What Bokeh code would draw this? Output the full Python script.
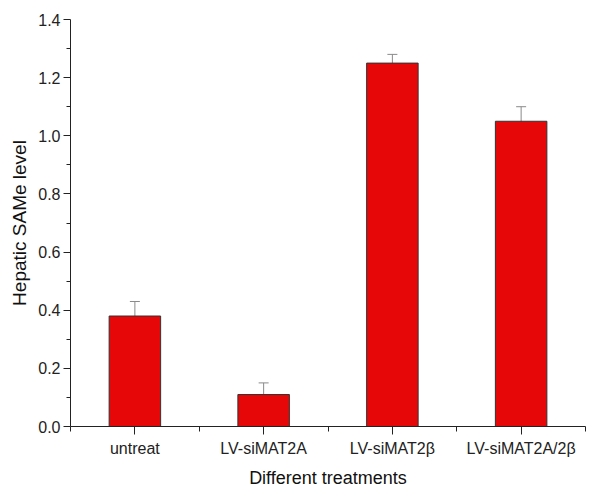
from bokeh.plotting import figure
from bokeh.models import ColumnDataSource, Whisker, TeeHead, FixedTicker, Range1d, CustomJSTickFormatter
from bokeh.embed import file_html
from bokeh.resources import INLINE

categories = ["untreat", "LV-siMAT2A", "LV-siMAT2\u03b2", "LV-siMAT2A/2\u03b2"]
values = [0.38, 0.11, 1.25, 1.05]
errors = [0.05, 0.04, 0.03, 0.05]
y_ticks = [0.0, 0.2, 0.4, 0.6, 0.8, 1.0, 1.2, 1.4]

xs = list(range(1, len(categories) + 1))
src = ColumnDataSource(dict(
    x=xs, top=values,
    upper=[v + e for v, e in zip(values, errors)],
    lower=[v - e for v, e in zip(values, errors)],
))

p = figure(frame_width=515, frame_height=407, output_backend="svg", toolbar_location=None,
           x_range=Range1d(0.5, len(categories) + 0.5), y_range=Range1d(0, 1.4),
           min_border_left=70, min_border_right=5, min_border_top=19, min_border_bottom=66)
p.outline_line_color = None
p.xgrid.visible = False
p.ygrid.visible = False

p.vbar(x="x", top="top", bottom=0, width=0.4, source=src,
       fill_color="#E60808", line_color="#333333", line_width=1)

w = Whisker(source=src, base="x", upper="upper", lower="lower",
            line_color="#8a8a8a", line_width=1,
            upper_head=TeeHead(size=10, line_color="#8a8a8a", line_width=1),
            lower_head=TeeHead(size=10, line_color="#5a1a1a", line_width=1))
p.add_layout(w)

font = "Liberation Sans"
xa = p.xaxis[0]
xa.ticker = FixedTicker(ticks=xs, minor_ticks=[i + 0.5 for i in range(0, len(categories) + 1)])
xa.major_label_overrides = {i: c for i, c in zip(xs, categories)}
xa.axis_label = "Different treatments"
xa.axis_label_text_font = font
xa.axis_label_text_font_size = "18px"
xa.axis_label_text_font_style = "normal"
xa.axis_label_text_color = "#111111"
xa.axis_label_standoff = 8
xa.major_label_text_font = font
xa.major_label_text_font_size = "16px"
xa.major_label_text_color = "#222222"
xa.major_label_standoff = 5
xa.major_tick_out = 8
xa.major_tick_in = 0
xa.minor_tick_out = 5
xa.minor_tick_in = 0
xa.axis_line_color = "#222222"
xa.major_tick_line_color = "#222222"
xa.minor_tick_line_color = "#222222"

ya = p.yaxis[0]
ya.ticker = FixedTicker(ticks=y_ticks, minor_ticks=[t + 0.1 for t in y_ticks[:-1]])
ya.formatter = CustomJSTickFormatter(code="return tick.toFixed(1);")
ya.axis_label = "Hepatic SAMe level"
ya.axis_label_text_font = font
ya.axis_label_text_font_size = "19px"
ya.axis_label_text_font_style = "normal"
ya.axis_label_text_color = "#111111"
ya.axis_label_standoff = 5
ya.major_label_text_font = font
ya.major_label_text_font_size = "16px"
ya.major_label_text_color = "#222222"
ya.major_label_standoff = 3
ya.major_tick_out = 7
ya.major_tick_in = 0
ya.minor_tick_out = 4
ya.minor_tick_in = 0
ya.axis_line_color = "#222222"
ya.major_tick_line_color = "#222222"
ya.minor_tick_line_color = "#222222"

open("out.html", "w").write(file_html(p, INLINE))
